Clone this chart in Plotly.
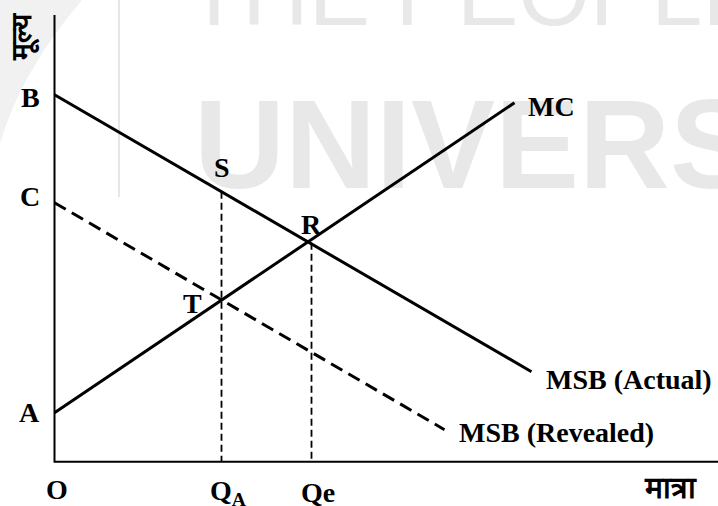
import plotly.graph_objects as go

# Figure size in pixels
W, H = 718, 506

# Visible data window (1 unit = 10 px, origin O at the axes corner)
X_RANGE = [-5.45, 66.35]
Y_RANGE = [-4.43, 46.17]
X_AXIS_END = 66.35
Y_AXIS_END = 44.67

# Price-axis intercepts
intercept_names = ["B", "C", "A"]
intercept_values = [36.7, 25.9, 4.9]

# Curves: marginal cost and the two marginal social benefit schedules
mc_x = [0, 46.0]
mc_y = [4.9, 35.9]
msb_actual_x = [0, 47.7]
msb_actual_y = [36.7, 9.0]
msb_revealed_x = [0, 39.0]
msb_revealed_y = [25.9, 3.2]

# Quantities on the horizontal axis
quantity_labels = ["Q<sub>A</sub>", "Qe"]
quantity_values = [16.7, 25.7]

# Named points on the curves
point_names = ["S", "R", "T"]
point_x = [16.7, 25.7, 16.7]
point_y = [27.0, 21.9, 16.1]

SERIF = "Liberation Serif, Times New Roman, serif"
LABEL_SIZE = 28
INK = "#000000"


def px_x(p):
    return p / W


def px_y(p):
    return 1 - p / H


fig = go.Figure()

# Faint background lettering
fig.add_trace(go.Scatter(
    x=[X_RANGE[0] + 186 / 10], y=[Y_RANGE[1] - 2 / 10],
    mode="text", text=["THE PEOPLE'S"], textposition="middle right",
    textfont=dict(family="Liberation Sans, Arial, sans-serif", size=92, color="#e8e8e8"),
    hoverinfo="skip", showlegend=False,
))
fig.add_trace(go.Scatter(
    x=[X_RANGE[0] + 194 / 10], y=[Y_RANGE[1] - 156 / 10],
    mode="text", text=["UNIVERSITY"], textposition="middle right",
    textfont=dict(family="Liberation Sans, Arial, sans-serif",
                  size=126, color="#e8e8e8", weight="bold"),
    hoverinfo="skip", showlegend=False,
))

# Axes
fig.add_trace(go.Scatter(x=[0, 0, X_AXIS_END], y=[Y_AXIS_END, 0, 0], mode="lines",
                         line=dict(color=INK, width=2), hoverinfo="skip", showlegend=False))

# Drop lines from S and R to the quantity axis
for qx, py in [(quantity_values[0], point_y[0]), (quantity_values[1], point_y[1])]:
    fig.add_trace(go.Scatter(x=[qx, qx], y=[py, 0], mode="lines",
                             line=dict(color=INK, width=1.8, dash="7px,4px"),
                             hoverinfo="skip", showlegend=False))

# Curves
fig.add_trace(go.Scatter(x=msb_revealed_x, y=msb_revealed_y, mode="lines",
                         line=dict(color=INK, width=3, dash="13px,7px"),
                         hoverinfo="skip", showlegend=False))
fig.add_trace(go.Scatter(x=msb_actual_x, y=msb_actual_y, mode="lines",
                         line=dict(color=INK, width=3), hoverinfo="skip", showlegend=False))
fig.add_trace(go.Scatter(x=mc_x, y=mc_y, mode="lines",
                         line=dict(color=INK, width=3), hoverinfo="skip", showlegend=False))

annotations = []


def label(text, x, y, xanchor="center", yanchor="middle", xshift=0, yshift=0, size=LABEL_SIZE,
          family=SERIF, bold=True, textangle=0, xref="x", yref="y"):
    annotations.append(dict(
        text=f"<b>{text}</b>" if bold else text, x=x, y=y, xref=xref, yref=yref,
        xanchor=xanchor, yanchor=yanchor, xshift=xshift, yshift=yshift,
        showarrow=False, textangle=textangle,
        font=dict(family=family, size=size, color=INK),
    ))


for name, val, dy in zip(intercept_names, intercept_values, [-3, 6, 0]):
    label(name, 0, val, xanchor="right", xshift=-13, yshift=dy)

label("O", 0, 0, yanchor="middle", xshift=2, yshift=-28)
for text, qx in zip(quantity_labels, quantity_values):
    label(text, qx, 0, yshift=-31, xshift=6)

for name, x, y, dx, dy in zip(point_names, point_x, point_y, [0, 0, -29], [24, 18, -3]):
    label(name, x, y, xshift=dx, yshift=dy)

label("MC", mc_x[-1], mc_y[-1], xanchor="left", xshift=11, yshift=-4)
label("MSB (Actual)", msb_actual_x[-1], msb_actual_y[-1], xanchor="left", xshift=12, yshift=-8)
label("MSB (Revealed)", msb_revealed_x[-1], msb_revealed_y[-1], xanchor="left", xshift=12, yshift=-3)

# Axis titles (Hindi)
label("मात्रा", px_x(670), px_y(487), xref="paper", yref="paper", size=30)
label("मूल्य", px_x(23), px_y(37), xref="paper", yref="paper", size=28, textangle=-90)

shapes = [
    # light logo arc in the upper-left corner
    dict(type="path", xref="paper", yref="paper", layer="below",
         path=f"M 0,1 L {px_x(82)},1 Q {px_x(22)},{px_y(70)} 0,{px_y(143)} Z",
         fillcolor="#f1f1f1", line=dict(width=0)),
    # thin light rule
    dict(type="line", xref="paper", yref="paper", layer="below",
         x0=px_x(119), x1=px_x(119), y0=1, y1=px_y(197),
         line=dict(color="#e6e6e6", width=2)),
]

fig.update_layout(
    width=W, height=H,
    margin=dict(l=0, r=0, t=0, b=0),
    paper_bgcolor="white", plot_bgcolor="white",
    xaxis=dict(range=X_RANGE, visible=False, fixedrange=True),
    yaxis=dict(range=Y_RANGE, visible=False, fixedrange=True),
    annotations=annotations, shapes=shapes,
    showlegend=False,
)

fig.write_html("out.html", config={"displayModeBar": False})
